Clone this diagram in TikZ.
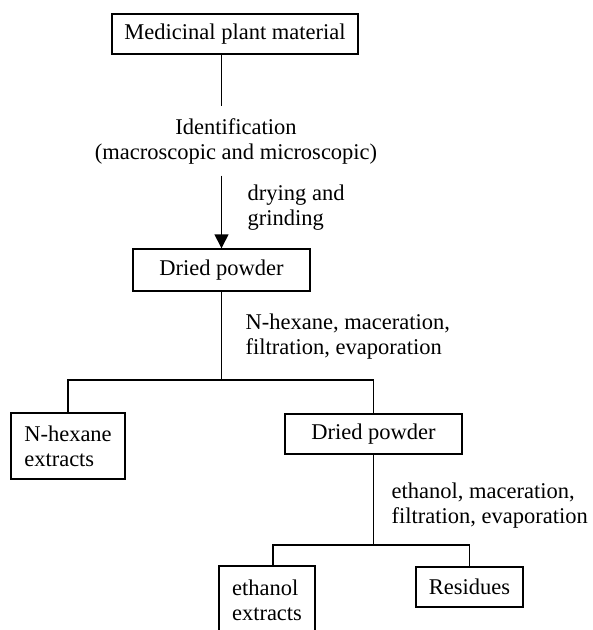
\documentclass[tikz,border=0pt]{standalone}
\usepackage{fontspec}
\setmainfont{Liberation Serif}
\usetikzlibrary{arrows.meta}

\begin{document}
\begin{tikzpicture}[x=1pt,y=-1pt,line width=1.4pt]
\tikzstyle{box}=[rectangle,draw,black,line width=1.4pt,inner sep=0pt,font=\fontsize{22.5}{25}\selectfont]
\tikzstyle{lbl}=[inner sep=0pt,font=\fontsize{22.5}{25}\selectfont]
\useasboundingbox (0,0) rectangle (593,630);

\node[box,minimum width=246pt,minimum height=40pt](M) at (235,34) {Medicinal plant material};
\node[lbl,align=center,inner ysep=11pt](I) at (236,141) {Identification\\(macroscopic and microscopic)};
\node[lbl,align=left,anchor=west](G) at (247,208) {drying and\\grinding};
\node[box,minimum width=177pt,minimum height=42pt](D) at (221.5,270) {Dried powder};
\node[lbl,align=left,anchor=west](N) at (245,337) {N-hexane, maceration,\\filtration, evaporation};
\node[box,align=left,minimum width=114pt,minimum height=66pt](H) at (68,446) {N-hexane\\extracts};
\node[box,minimum width=177pt,minimum height=40pt](P) at (373.5,434) {Dried powder};
\node[lbl,align=left,anchor=west](L) at (391,506) {ethanol, maceration,\\filtration, evaporation};
\node[box,align=left,minimum width=96pt,minimum height=68pt](E) at (267,600) {ethanol\\extracts};
\node[box,minimum width=107pt,minimum height=40pt](R) at (469.5,587) {Residues};

\coordinate (b1) at (D.south |- 0,380);
\coordinate (b2) at (P.south |- 0,545);

\draw (D.north |- M.south) -- (D.north |- I.north);
\draw[-{Triangle[width=14pt,length=14pt]}] (D.north |- I.south) -- (D.north);
\draw (D.south) -- (b1);
\draw (H.north) |- (b1) -| (P.north);
\draw (P.south) -- (b2);
\draw ([xshift=6pt]E.north) |- (b2) -| (R.north);
\end{tikzpicture}
\end{document}
